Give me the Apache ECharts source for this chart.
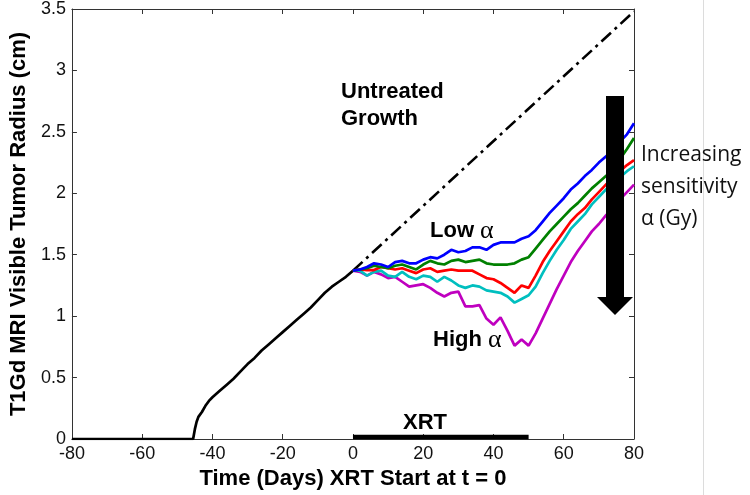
<!DOCTYPE html>
<html>
<head>
<meta charset="utf-8">
<script src="https://cdn.jsdelivr.net/npm/echarts@6/dist/echarts.min.js"></script>
<style>
html,body{margin:0;padding:0;background:#fff;}
#chart{width:750px;height:495px;}
</style>
</head>
<body>
<div id="chart"></div>
<script>
// ---- Data ----
var xTicks = [-80, -60, -40, -20, 0, 20, 40, 60, 80];
var yTicks = [0, 0.5, 1, 1.5, 2, 2.5, 3, 3.5];

// pre-treatment growth (black)
var preDays = [-80, -45.5, -45, -44.5, -44, -43, -42, -41, -40, -38, -36, -34, -32, -30, -28, -26, -24, -22, -20, -18, -16, -14, -12, -10, -8, -6, -4, -2, 0];
var preRadius = [0, 0, 0.08, 0.14, 0.18, 0.22, 0.27, 0.31, 0.34, 0.39, 0.44, 0.49, 0.55, 0.61, 0.66, 0.72, 0.77, 0.82, 0.87, 0.92, 0.97, 1.02, 1.07, 1.13, 1.19, 1.24, 1.28, 1.32, 1.37];

// untreated growth projection (dash-dot)
var untreatedDays = [0, 80];
var untreatedRadius = [1.37, 3.48];

// treatment response curves
var postDays = [0,2,4,6,8,10,12,14,16,18,20,22,24,26,28,30,32,34,36,38,40,42,44,46,48,50,52,54,56,58,60,62,64,66,68,70,72,74,76,78,80];
var blueRadius = [1.37,1.38,1.40,1.43,1.42,1.40,1.44,1.45,1.43,1.43,1.46,1.48,1.47,1.50,1.54,1.52,1.53,1.56,1.56,1.54,1.58,1.60,1.60,1.60,1.63,1.65,1.70,1.77,1.84,1.90,1.96,2.03,2.08,2.14,2.19,2.25,2.30,2.35,2.42,2.48,2.57];
var greenRadius = [1.37,1.38,1.39,1.41,1.40,1.39,1.41,1.42,1.40,1.38,1.42,1.45,1.43,1.42,1.45,1.46,1.44,1.45,1.46,1.43,1.42,1.42,1.42,1.43,1.46,1.48,1.55,1.62,1.69,1.75,1.81,1.87,1.92,1.98,2.04,2.09,2.14,2.20,2.28,2.36,2.45];
var redRadius = [1.37,1.38,1.375,1.375,1.40,1.39,1.38,1.39,1.37,1.35,1.38,1.39,1.36,1.37,1.38,1.37,1.37,1.37,1.34,1.31,1.30,1.27,1.23,1.19,1.25,1.23,1.33,1.44,1.53,1.61,1.69,1.77,1.83,1.88,1.95,2.01,2.07,2.13,2.18,2.23,2.27];
var cyanRadius = [1.37,1.37,1.33,1.36,1.37,1.33,1.32,1.36,1.32,1.30,1.33,1.32,1.28,1.32,1.29,1.25,1.23,1.25,1.24,1.21,1.20,1.19,1.16,1.11,1.14,1.17,1.24,1.35,1.45,1.54,1.62,1.71,1.77,1.83,1.91,1.97,2.03,2.08,2.13,2.18,2.22];
var magentaRadius = [1.37,1.36,1.33,1.36,1.34,1.31,1.32,1.28,1.24,1.25,1.26,1.23,1.19,1.16,1.19,1.20,1.08,1.08,1.09,0.98,0.93,0.99,0.88,0.76,0.81,0.76,0.86,0.98,1.10,1.22,1.33,1.44,1.53,1.61,1.69,1.75,1.82,1.88,1.95,2.01,2.07];

// XRT treatment window
var xrtDays = [0, 50];
var xrtLevel = [0.016, 0.016];

function pairs(xs, ys) { return xs.map(function (x, i) { return [x, ys[i]]; }); }

var axisColor = '#333';
var chart = echarts.init(document.getElementById('chart'), null, {renderer: 'canvas'});

function lineSeries(name, xs, ys, color, width, type) {
  return {
    name: name, type: 'line', xAxisIndex: 0, yAxisIndex: 0,
    data: pairs(xs, ys), symbol: 'none', smooth: false, animation: false,
    lineStyle: {color: color, width: width, type: type || 'solid'},
    z: 3
  };
}

var option = {
  animation: false,
  backgroundColor: '#fff',
  grid: {left: 70, right: 116, top: 9, bottom: 56, containLabel: false},
  xAxis: [{
    type: 'value', min: -80, max: 80, interval: 20, position: 'bottom',
    axisLine: {show: true, onZero: false, lineStyle: {color: axisColor, width: 1}},
    axisTick: {show: true, inside: true, length: 5, lineStyle: {color: axisColor}},
    axisLabel: {fontSize: 18, color: '#111', margin: 6, fontFamily: 'Liberation Sans, Arial, sans-serif',
      formatter: function (v) { return xTicks.indexOf(v) >= 0 ? String(v) : ''; }},
    splitLine: {show: false},
    name: 'Time (Days) XRT Start at t = 0', nameLocation: 'middle', nameGap: 28,
    nameTextStyle: {fontSize: 22, fontWeight: 'bold', color: '#000', fontFamily: 'Liberation Sans, Arial, sans-serif'}
  }, {
    type: 'value', min: -80, max: 80, interval: 20, position: 'top',
    axisLine: {show: true, onZero: false, lineStyle: {color: axisColor, width: 1}},
    axisTick: {show: true, inside: true, length: 5, lineStyle: {color: axisColor}},
    axisLabel: {show: false}, splitLine: {show: false}
  }],
  yAxis: [{
    type: 'value', min: 0, max: 3.5, interval: 0.5, position: 'left',
    axisLine: {show: true, onZero: false, lineStyle: {color: axisColor, width: 1}},
    axisTick: {show: true, inside: true, length: 5, lineStyle: {color: axisColor}},
    axisLabel: {fontSize: 18, color: '#111', margin: 6, fontFamily: 'Liberation Sans, Arial, sans-serif',
      formatter: function (v) { return yTicks.indexOf(v) >= 0 ? String(v) : ''; }},
    splitLine: {show: false},
    name: 'T1Gd MRI Visible Tumor Radius (cm)', nameLocation: 'middle', nameGap: 37, nameRotate: 90,
    nameTextStyle: {fontSize: 22, fontWeight: 'bold', color: '#000', fontFamily: 'Liberation Sans, Arial, sans-serif'}
  }, {
    type: 'value', min: 0, max: 3.5, interval: 0.5, position: 'right',
    axisLine: {show: true, onZero: false, lineStyle: {color: axisColor, width: 1}},
    axisTick: {show: true, inside: true, length: 5, lineStyle: {color: axisColor}},
    axisLabel: {show: false}, splitLine: {show: false}
  }],
  series: [
    lineSeries('Untreated', untreatedDays, untreatedRadius, '#000', 2.6, [13, 5, 3, 5]),
    lineSeries('Pre-treatment', preDays, preRadius, '#000', 2.7),
    lineSeries('Magenta', postDays, magentaRadius, '#bf00bf', 2.7),
    lineSeries('Cyan', postDays, cyanRadius, '#00bfbf', 2.7),
    lineSeries('Red', postDays, redRadius, '#ff0000', 2.7),
    lineSeries('Green', postDays, greenRadius, '#008000', 2.7),
    lineSeries('Blue', postDays, blueRadius, '#0000ff', 2.7),
    lineSeries('XRT', xrtDays, xrtLevel, '#000', 4.5)
  ],
  graphic: [
    {type: 'line', shape: {x1: 703.5, y1: 0, x2: 703.5, y2: 495}, style: {stroke: '#dcdcdc', lineWidth: 1}, z: 1},
    {type: 'polygon', z: 100,
      shape: {points: [[606, 96], [624, 96], [624, 297], [633, 297], [615, 315], [597, 297], [606, 297]]},
      style: {fill: '#000'}},
    {type: 'text', x: 341, y: 92, z: 100, style: {text: 'Untreated', fontSize: 22, fontWeight: 'bold', fill: '#000', fontFamily: 'Liberation Sans, Arial, sans-serif', verticalAlign: 'middle'}},
    {type: 'text', x: 341, y: 119, z: 100, style: {text: 'Growth', fontSize: 22, fontWeight: 'bold', fill: '#000', fontFamily: 'Liberation Sans, Arial, sans-serif', verticalAlign: 'middle'}},
    {type: 'text', x: 430, y: 231, z: 100, style: {
      text: '{b|Low }{a|α}', verticalAlign: 'middle',
      rich: {b: {fontSize: 22, fontWeight: 'bold', fill: '#000', color: '#000', fontFamily: 'Liberation Sans, Arial, sans-serif'},
             a: {fontSize: 26, fill: '#000', color: '#000', fontFamily: 'Liberation Serif, serif'}}}},
    {type: 'text', x: 433, y: 340, z: 100, style: {
      text: '{b|High }{a|α}', verticalAlign: 'middle',
      rich: {b: {fontSize: 22, fontWeight: 'bold', fill: '#000', color: '#000', fontFamily: 'Liberation Sans, Arial, sans-serif'},
             a: {fontSize: 26, fill: '#000', color: '#000', fontFamily: 'Liberation Serif, serif'}}}},
    {type: 'text', x: 425, y: 423, z: 100, style: {text: 'XRT', fontSize: 22, fontWeight: 'bold', fill: '#000', fontFamily: 'Liberation Sans, Arial, sans-serif', align: 'center', verticalAlign: 'middle'}},
    {type: 'text', x: 641, y: 155, z: 100, style: {text: 'Increasing', fontSize: 21, fill: '#111', fontFamily: 'Open Sans, sans-serif', verticalAlign: 'middle'}},
    {type: 'text', x: 641, y: 187, z: 100, style: {text: 'sensitivity', fontSize: 21, fill: '#111', fontFamily: 'Open Sans, sans-serif', verticalAlign: 'middle'}},
    {type: 'text', x: 641, y: 219, z: 100, style: {text: 'α (Gy)', fontSize: 21, fill: '#111', fontFamily: 'Open Sans, sans-serif', verticalAlign: 'middle'}}
  ]
};
chart.setOption(option);
</script>
</body>
</html>
